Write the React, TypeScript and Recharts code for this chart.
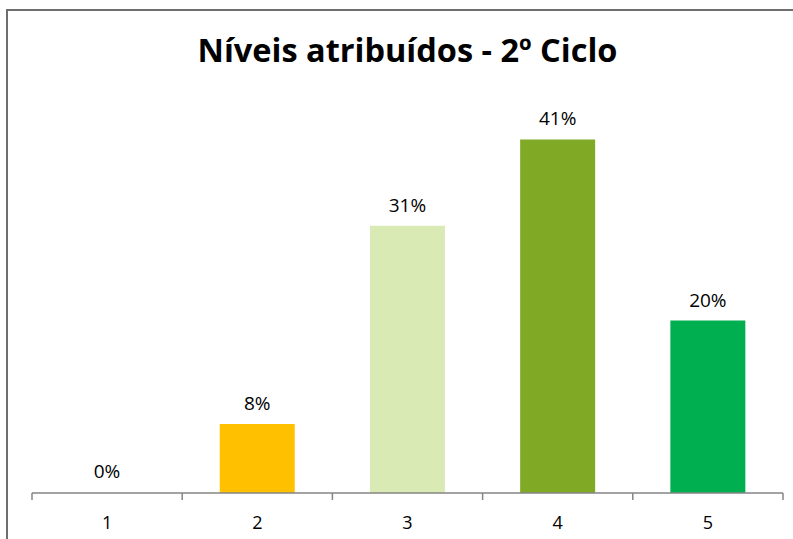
import { BarChart, Bar, XAxis, YAxis, Cell, LabelList } from "recharts";

const levels = ["1", "2", "3", "4", "5"];
const shares = [0, 8, 31, 41, 20];
const barColors = ["transparent", "#FFC000", "#DAEAB5", "#80AA26", "#00AF50"];

const chartData = levels.map((level, i) => ({ level, value: shares[i] }));

const FONT = "'Open Sans', 'Noto Sans', sans-serif";
const CHART_W = 793;
const MARGIN = { top: 105, right: 10, bottom: 0, left: 32 };
const BAND = (CHART_W - MARGIN.left - MARGIN.right) / levels.length;
const AXIS_GREY = "#858585";

// Excel-style ticks sit between categories, not under them
const EdgeTick = (props: any) => {
  const { x, y, payload, index } = props;
  const half = BAND / 2;
  return (
    <g>
      <line x1={x - half} x2={x - half} y1={y} y2={y + 7} stroke={AXIS_GREY} strokeWidth={1.5} />
      {index === levels.length - 1 && (
        <line x1={x + half} x2={x + half} y1={y} y2={y + 7} stroke={AXIS_GREY} strokeWidth={1.5} />
      )}
      <text x={x} y={y + 36} textAnchor="middle" fill="#000" fontSize={18} fontFamily={FONT}>
        {payload.value}
      </text>
    </g>
  );
};

const App = () => {
  return (
    <div style={{ position: "fixed", left: 0, top: 0, width: 793, height: 539, overflow: "hidden", background: "#fff" }}>
      <style>{`html, body { margin: 0; overflow: hidden; background: #fff; }`}</style>
      <div
        style={{
          position: "absolute",
          left: 0,
          width: 815,
          top: 27,
          textAlign: "center",
          fontFamily: FONT,
          fontWeight: 700,
          fontSize: 32.5,
          color: "#000",
          lineHeight: "46px",
        }}
      >
        Níveis atribuídos - 2º Ciclo
      </div>
      <div style={{ position: "absolute", left: 0, top: 0 }}>
        <BarChart
          width={CHART_W}
          height={539}
          data={chartData}
          margin={MARGIN}
          barCategoryGap="25%"
          accessibilityLayer={false}
        >
          <XAxis
            dataKey="level"
            height={46}
            axisLine={{ stroke: AXIS_GREY, strokeWidth: 1.5 }}
            tickLine={false}
            tickSize={0}
            tickMargin={0}
            tick={<EdgeTick />}
          />
          <YAxis hide domain={[0, 45]} />
          <Bar dataKey="value" minPointSize={1} isAnimationActive={false}>
            {chartData.map((entry, index) => (
              <Cell key={`cell-${entry.level}`} fill={barColors[index]} />
            ))}
            <LabelList
              dataKey="value"
              position="top"
              offset={14}
              formatter={(v: number) => `${v}%`}
              style={{ fill: "#000", fontSize: 19, fontFamily: FONT }}
            />
          </Bar>
        </BarChart>
      </div>
      {/* chart frame: only the top and left edges fall inside the picture */}
      <svg width={793} height={539} style={{ position: "absolute", left: 0, top: 0, pointerEvents: "none" }}>
        <path d="M7 539 L7 10 L793 10" fill="none" stroke="#6e6e6e" strokeWidth={2} />
      </svg>
    </div>
  );
};

export default App;
